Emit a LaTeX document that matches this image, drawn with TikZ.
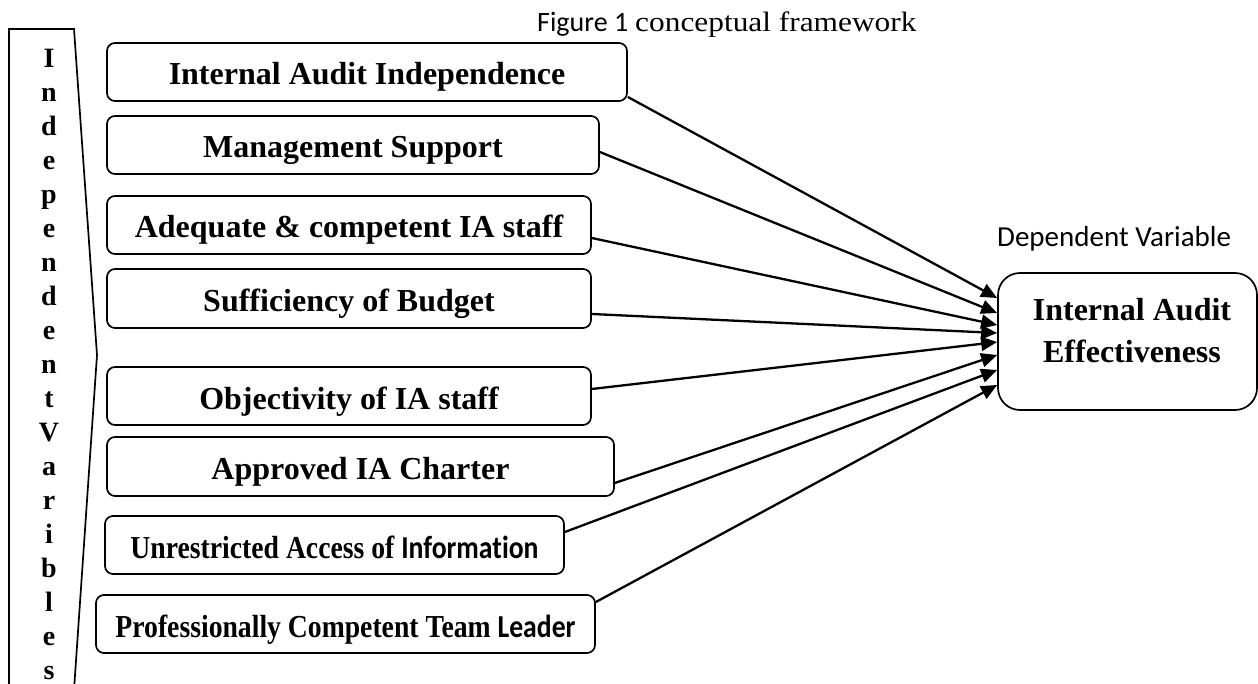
\documentclass[tikz,border=0pt]{standalone}
\usepackage{fontspec}
\setmainfont{Liberation Serif}
\newfontfamily\calib[Ligatures={NoCommon}]{Carlito}
\newfontfamily\titleserif[FakeStretch=1.12]{Liberation Serif}
\usetikzlibrary{arrows.meta,calc}

\tikzset{
  factor/.style={draw, line width=1.7pt, rounded corners=8pt, inner sep=0pt,
    minimum height=58pt, text height=30pt, text depth=4pt,
    font=\fontsize{32}{38}\selectfont\bfseries},
  outcome/.style={draw, line width=1.7pt, rounded corners=22pt, inner sep=0pt,
    minimum width=259pt, minimum height=137pt},
  ivframe/.style={draw, line width=1.7pt, line join=miter},
  link/.style={line width=2.3pt, -{Triangle[length=16pt,width=14pt]}},
}

\begin{document}
\begin{tikzpicture}[x=1pt, y=-1pt]
\useasboundingbox (0,0) rectangle (1258,684);

% heading
\node[anchor=base west, inner sep=0pt] (title) at (537,32)
  {\fontsize{28}{32}\selectfont{\calib Figure 1} \titleserif conceptual framework};

% independent variables frame
\draw[ivframe] (9,690) -- (9,29) -- (74,29) -- (97,355) -- (74,690);
\node[align=center, inner sep=0pt, font=\fontsize{28}{34}\selectfont\bfseries] (ivlabel) at (49,364)
  {I\\n\\d\\e\\p\\e\\n\\d\\e\\n\\t\\V\\a\\r\\i\\b\\l\\e\\s};

% factors
\node[factor, minimum width=520pt] (b1) at (367,72)    {Internal Audit Independence};
\node[factor, minimum width=492pt] (b2) at (353,145)   {Management Support};
\node[factor, minimum width=484pt] (b3) at (349,225)   {Adequate \& competent IA staff};
\node[factor, minimum width=484pt, minimum height=59pt] (b4) at (349,298.5) {Sufficiency of Budget};
\node[factor, minimum width=484pt] (b5) at (349,396)   {Objectivity of IA staff};
\node[factor, minimum width=507pt, minimum height=59pt] (b6) at (360.5,466.5) {Approved IA Charter};
\node[factor, minimum width=459pt] (b7) at (334.5,545)
  {\scalebox{0.865}[1]{Unrestricted Access of {\calib Information}}\hspace{9pt}};
\node[factor, minimum width=499pt] (b8) at (345.5,624)
  {\scalebox{0.865}[1]{Professionally Competent Team {\calib Leader}}};

% dependent variable
\node[anchor=base west, inner sep=0pt, font=\calib\fontsize{29}{32}\selectfont] (dvtitle) at (997,247) {Dependent Variable};
\node[outcome] (dv) at (1127.5,341.5) {};
\node[align=center, inner sep=0pt, font=\fontsize{32}{42}\selectfont\bfseries] (dvtext) at (1132,331)
  {Internal Audit\\Effectiveness};

% links
\draw[link] ($(b1.east)+(0,25)$)  -- ($(dv.west)+(0,-43.5)$);
\draw[link] ($(b2.east)+(0,7)$)   -- ($(dv.west)+(0,-28.5)$);
\draw[link] ($(b3.east)+(0,13)$)  -- ($(dv.west)+(0,-16.5)$);
\draw[link] ($(b4.east)+(0,15.5)$) -- ($(dv.west)+(0,-8.5)$);
\draw[link] ($(b5.east)+(0,-7)$)  -- ($(dv.west)+(0,0.5)$);
\draw[link] ($(b6.east)+(0,16.5)$) -- ($(dv.west)+(0,13.5)$);
\draw[link] ($(b7.east)+(0,-13)$) -- ($(dv.west)+(0,28.5)$);
\draw[link] ($(b8.east)+(0,-22)$) -- ($(dv.west)+(0,43.5)$);
\end{tikzpicture}
\end{document}
